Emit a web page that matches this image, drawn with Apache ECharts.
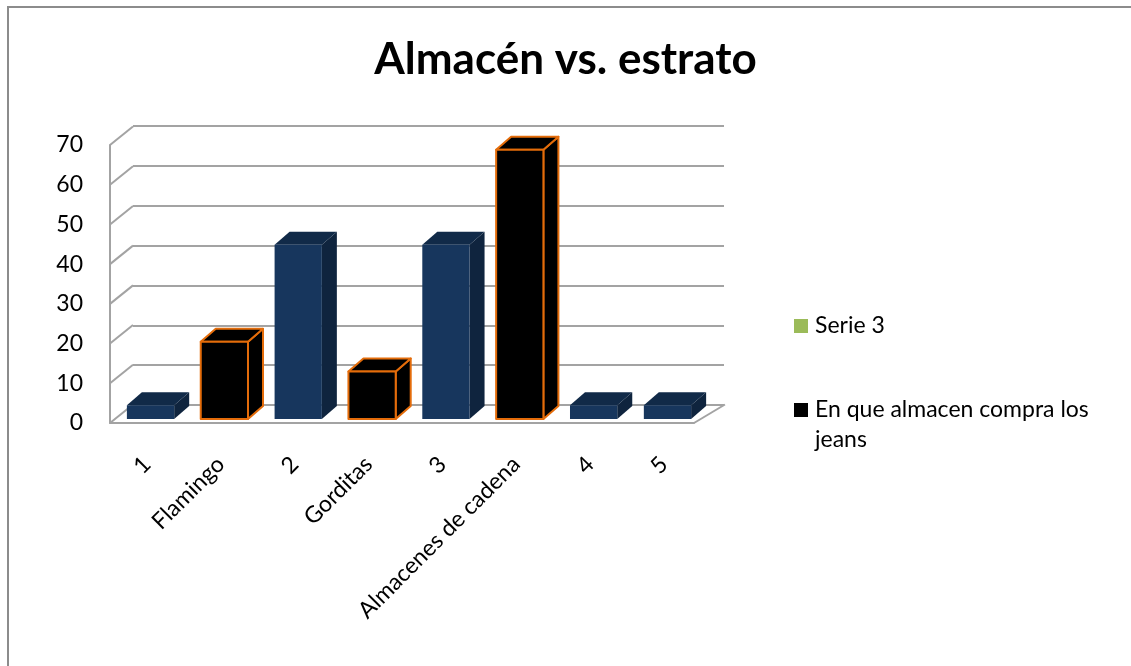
<!DOCTYPE html>
<html>
<head>
<meta charset="utf-8">
<title>Almacén vs. estrato</title>
<script src="https://cdn.jsdelivr.net/npm/echarts@6/dist/echarts.min.js"></script>
<style>
  html, body { margin: 0; padding: 0; background: #fff; }
  #chart { width: 1131px; height: 666px; }
</style>
</head>
<body>
<div id="chart"></div>
<script>
// datos
const categories = ['1', 'Flamingo', '2', 'Gorditas', '3', 'Almacenes de cadena', '4', '5']
const estratoValues = [3.5, null, 44, null, 44, null, 3.5, 3.5]
const almacenValues = [null, 19.5, null, 12, null, 68, null, null]
const serie3Values = []
const yTicks = [0, 10, 20, 30, 40, 50, 60, 70]

const FONT = 'Lato, "Open Sans", sans-serif'
const GRID_COLOR = '#a3a3a3'
// profundidad de las barras 3D
const BAR_DX = 15
const BAR_DY = -13
// profundidad de las paredes
const WALL_DX = 23
const WALL_DY = -18.5

const chart = echarts.init(document.getElementById('chart'))

// barra en 3D: cara frontal, lateral y superior
const bar3d = (front, side, top, border) => (params, api) => {
  const v = api.value(1)
  if (v == null || isNaN(v)) return
  const p = api.coord([api.value(0), v])
  const b = api.coord([api.value(0), 0])
  const w = api.size([1, 0])[0] * 0.64
  const x0 = p[0] - w / 2
  const x1 = p[0] + w / 2
  const yt = p[1]
  const yb = b[1]
  const line = border ? { stroke: border, lineWidth: 2, lineJoin: 'round' } : { stroke: null }
  return {
    type: 'group',
    children: [
      {
        type: 'polygon',
        shape: { points: [[x1, yt], [x1 + BAR_DX, yt + BAR_DY], [x1 + BAR_DX, yb + BAR_DY], [x1, yb]] },
        style: Object.assign({ fill: side }, line)
      },
      {
        type: 'polygon',
        shape: { points: [[x0, yt], [x1, yt], [x1 + BAR_DX, yt + BAR_DY], [x0 + BAR_DX, yt + BAR_DY]] },
        style: Object.assign({ fill: top }, line)
      },
      {
        type: 'rect',
        shape: { x: x0, y: yt, width: w, height: yb - yt },
        style: Object.assign({ fill: front }, line)
      }
    ]
  }
}

chart.setOption({
  animation: false,
  backgroundColor: '#fff',
  graphic: [
    {
      type: 'rect',
      shape: { x: 8, y: 7, width: 1300, height: 800 },
      style: { fill: null, stroke: '#8c8c8c', lineWidth: 2 },
      z: 0
    }
  ],
  title: {
    text: 'Almacén vs. estrato',
    left: 'center',
    top: 33,
    textStyle: { fontFamily: FONT, fontWeight: 'bold', fontSize: 44, color: '#000' }
  },
  legend: {
    orient: 'vertical',
    left: 789,
    top: 306,
    itemWidth: 14,
    itemHeight: 14,
    itemGap: 24,
    icon: 'rect',
    data: ['Serie 3', 'En que almacen compra los jeans'],
    // linea vacia delante para que el icono quede a la altura de la primera linea
    formatter: (name) => (name === 'Serie 3' ? name : '\n' + name),
    itemStyle: { borderWidth: 0 },
    textStyle: {
      fontFamily: FONT,
      fontSize: 23,
      color: '#000',
      width: 300,
      overflow: 'break',
      lineHeight: 30,
      padding: [0, 0, 0, 2]
    }
  },
  grid: [
    // pared del fondo
    { left: 133, right: 407, top: 126, bottom: 261 },
    // plano frontal
    { left: 110, right: 437, top: 145, bottom: 243 },
    // barras
    { left: 113.6, right: 426.6, top: 141.8, bottom: 247 }
  ],
  xAxis: [
    { gridIndex: 0, type: 'value', min: 0, max: 1, show: false },
    {
      gridIndex: 1, type: 'value', min: 0, max: 1,
      axisLine: { show: true, lineStyle: { color: GRID_COLOR, width: 2 } },
      axisTick: { show: false }, axisLabel: { show: false }, splitLine: { show: false }
    },
    {
      gridIndex: 2, type: 'category', data: categories,
      axisLine: { show: false }, axisTick: { show: false },
      axisLabel: {
        interval: 0, rotate: 45, margin: 38,
        padding: [0, 5, 0, 0],
        fontFamily: FONT, fontSize: 23, color: '#000'
      }
    }
  ],
  yAxis: [
    {
      gridIndex: 0, type: 'value', min: 0, max: 70, interval: 10,
      axisLine: { show: false }, axisTick: { show: false }, axisLabel: { show: false },
      splitLine: { lineStyle: { color: GRID_COLOR, width: 2 } }
    },
    {
      gridIndex: 1, type: 'value', min: 0, max: 70, interval: 10,
      axisLine: { show: true, lineStyle: { color: GRID_COLOR, width: 2 } },
      axisTick: { show: false },
      splitLine: { show: false },
      axisLabel: { margin: 27, fontFamily: FONT, fontSize: 23, color: '#000' }
    },
    { gridIndex: 2, type: 'value', min: 0, max: 70, show: false }
  ],
  series: [
    {
      // lineas diagonales de la pared izquierda y borde del piso
      type: 'custom',
      xAxisIndex: 1,
      yAxisIndex: 1,
      silent: true,
      data: yTicks.map((v) => [0, v]).concat([[1, 0]]),
      renderItem: (params, api) => {
        const p = api.coord([api.value(0), api.value(1)])
        const dx = api.value(0) === 1 ? WALL_DX + 8 : WALL_DX
        return {
          type: 'line',
          shape: { x1: p[0], y1: p[1], x2: p[0] + dx, y2: p[1] + WALL_DY },
          style: { stroke: GRID_COLOR, lineWidth: 2 }
        }
      },
      z: 1
    },
    {
      name: 'Serie 1',
      type: 'custom',
      xAxisIndex: 2,
      yAxisIndex: 2,
      itemStyle: { color: '#17375e' },
      data: estratoValues.map((v, i) => [i, v]),
      renderItem: bar3d('#17365d', '#0f243e', '#112a48', null),
      z: 3
    },
    {
      name: 'En que almacen compra los jeans',
      type: 'custom',
      xAxisIndex: 2,
      yAxisIndex: 2,
      itemStyle: { color: '#000' },
      data: almacenValues.map((v, i) => [i, v]),
      renderItem: bar3d('#000', '#000', '#000', '#e46c0a'),
      z: 3
    },
    {
      name: 'Serie 3',
      type: 'bar',
      xAxisIndex: 2,
      yAxisIndex: 2,
      itemStyle: { color: '#9bbb59' },
      data: serie3Values
    }
  ]
})
</script>
</body>
</html>
